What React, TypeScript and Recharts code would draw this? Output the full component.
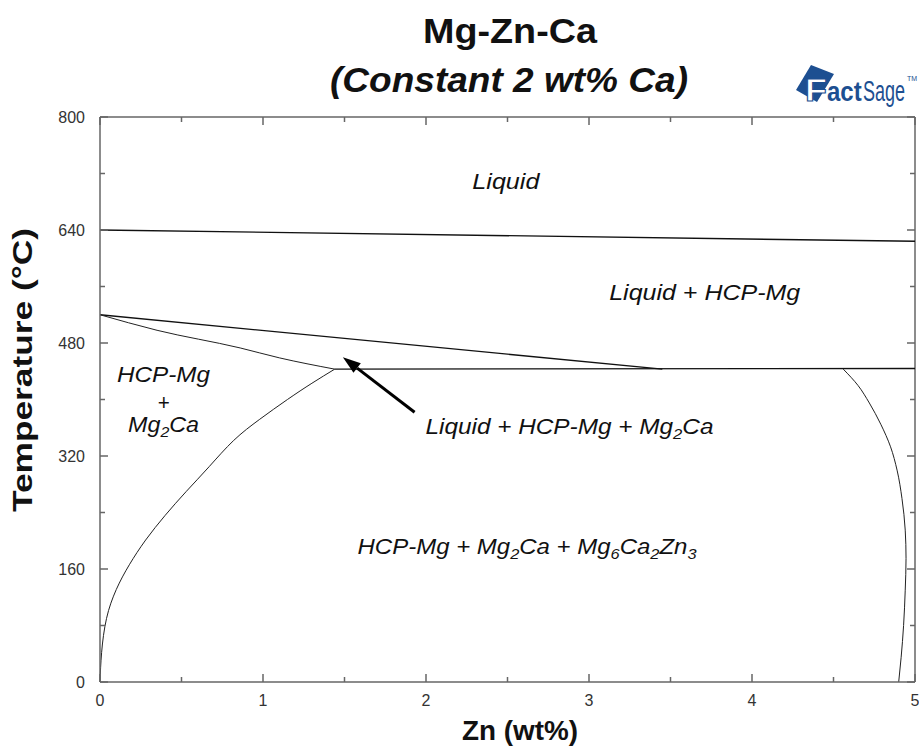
import React from 'react';
import { ComposedChart, Line, XAxis, YAxis, ReferenceDot, ReferenceLine } from 'recharts';

const FONT = '"Liberation Sans", Arial, Helvetica, sans-serif';
const AXIS = '#666';
const LOGO = '#1d4f91';

// Zn (wt%) / T (°C) tick values
const znTicks = [0, 0.5, 1, 1.5, 2, 2.5, 3, 3.5, 4, 4.5, 5];
const tTicks = [0, 80, 160, 240, 320, 400, 480, 560, 640, 720, 800];
const znMax = 5;
const tMax = 800;

// phase boundaries
const liquidus = [
  { x: 0, y: 640 },
  { x: 5, y: 624 },
];
const upperBoundary = [
  { x: 0, y: 520 },
  { x: 3.45, y: 443 },
];
const lowerBoundary = [
  { x: 0, y: 520 },
  { x: 0.35, y: 498 },
  { x: 0.86, y: 473 },
  { x: 1.1, y: 459 },
  { x: 1.44, y: 443 },
];
const eutectic = [
  { x: 1.44, y: 443 },
  { x: 5, y: 444 },
];
const mg2caSolvus = [
  { x: 0, y: 0 },
  { x: 0.01, y: 42 },
  { x: 0.04, y: 90 },
  { x: 0.1, y: 131 },
  { x: 0.18, y: 166 },
  { x: 0.28, y: 201 },
  { x: 0.4, y: 236 },
  { x: 0.53, y: 270 },
  { x: 0.67, y: 305 },
  { x: 0.82, y: 342 },
  { x: 0.98, y: 372 },
  { x: 1.15, y: 400 },
  { x: 1.3, y: 423 },
  { x: 1.44, y: 443 },
];
const ternarySolvus = [
  { x: 4.56, y: 443 },
  { x: 4.65, y: 420 },
  { x: 4.72, y: 395 },
  { x: 4.79, y: 365 },
  { x: 4.85, y: 333 },
  { x: 4.89, y: 300 },
  { x: 4.92, y: 260 },
  { x: 4.94, y: 215 },
  { x: 4.945, y: 175 },
  { x: 4.94, y: 130 },
  { x: 4.93, y: 80 },
  { x: 4.915, y: 35 },
  { x: 4.9, y: 0 },
];

// region labels: [text, subscript?] pieces, w = printed width
type Piece = [string, boolean?];
const labels: { x: number; y: number; w: number; parts: Piece[] }[] = [
  { x: 2.49, y: 708, w: 67, parts: [['Liquid']] },
  { x: 3.71, y: 551, w: 191, parts: [['Liquid + HCP-Mg']] },
  { x: 0.39, y: 435, w: 93, parts: [['HCP-Mg']] },
  { x: 0.39, y: 395, w: 12, parts: [['+']] },
  { x: 0.39, y: 364, w: 71, parts: [['Mg'], ['2', true], ['Ca']] },
  { x: 2.88, y: 361, w: 288, parts: [['Liquid + HCP-Mg + Mg'], ['2', true], ['Ca']] },
  {
    x: 2.62,
    y: 191,
    w: 339,
    parts: [['HCP-Mg + Mg'], ['2', true], ['Ca + Mg'], ['6', true], ['Ca'], ['2', true], ['Zn'], ['3', true]],
  },
];
const arrowFrom = { x: 1.93, y: 382 };
const arrowTo = { x: 1.49, y: 460 };

const BottomTick = (props: any) => {
  const { x, y, payload } = props;
  const major = Number.isInteger(payload.value);
  return (
    <g>
      <line x1={x} y1={y} x2={x} y2={y - (major ? 8 : 5)} stroke={AXIS} strokeWidth={1.5} />
      {major && (
        <text x={x} y={y + 24} textAnchor="middle" fontSize={16} fill="#333" fontFamily={FONT}>
          {payload.value}
        </text>
      )}
    </g>
  );
};

const LeftTick = (props: any) => {
  const { x, y, payload } = props;
  const major = payload.value % 160 === 0;
  return (
    <g>
      <line x1={x} y1={y} x2={x + (major ? 8 : 5)} y2={y} stroke={AXIS} strokeWidth={1.5} />
      {major && (
        <text x={x - 15} y={y + 6} textAnchor="end" fontSize={16} fill="#333" fontFamily={FONT}>
          {payload.value}
        </text>
      )}
    </g>
  );
};

// inward ticks on the top and right frame
const topTick = (major: boolean) => (props: any) =>
  <line x1={props.cx} y1={props.cy} x2={props.cx} y2={props.cy + (major ? 8 : 5)} stroke={AXIS} strokeWidth={1.5} />;
const rightTick = (major: boolean) => (props: any) =>
  <line x1={props.cx} y1={props.cy} x2={props.cx - (major ? 8 : 5)} y2={props.cy} stroke={AXIS} strokeWidth={1.5} />;

const Arrow = (props: any) => {
  const { x1, y1, x2, y2 } = props;
  const a = Math.atan2(y2 - y1, x2 - x1);
  const len = 18;
  const w = 6;
  const bx = x2 - len * Math.cos(a);
  const by = y2 - len * Math.sin(a);
  const px = -Math.sin(a) * w;
  const py = Math.cos(a) * w;
  return (
    <g>
      <line x1={x1} y1={y1} x2={bx} y2={by} stroke="#000" strokeWidth={3} />
      <polygon points={`${x2},${y2} ${bx + px},${by + py} ${bx - px},${by - py}`} fill="#000" />
    </g>
  );
};

const makeLabel = (parts: Piece[], w: number) => (props: any) => {
  const { cx, cy } = props;
  let shifted = false;
  return (
    <text
      x={cx}
      y={cy + 7}
      textAnchor="middle"
      fontSize={22}
      fontStyle="italic"
      fill="#111"
      fontFamily={FONT}
      textLength={w}
      lengthAdjust="spacingAndGlyphs"
    >
      {parts.map(([t, sub], i) => {
        let dy = 0;
        if (sub && !shifted) {
          dy = 5;
          shifted = true;
        } else if (!sub && shifted) {
          dy = -5;
          shifted = false;
        }
        return (
          <tspan key={i} dy={dy} fontSize={sub ? 15 : 22}>
            {t}
          </tspan>
        );
      })}
    </text>
  );
};

const lineStyle = { stroke: '#111', strokeWidth: 1.4 };
const curveStyle = { stroke: '#222', strokeWidth: 1 };

export default function App() {
  return (
    <div style={{ position: 'relative', width: 919, height: 747, background: '#fff', overflow: 'hidden' }}>
      <style>{'body{margin:0}'}</style>
      <ComposedChart width={919} height={747} margin={{ top: 117, right: 4, bottom: 25, left: 40 }}>
        <XAxis
          type="number"
          dataKey="x"
          domain={[0, znMax]}
          ticks={znTicks}
          interval={0}
          tick={BottomTick}
          tickSize={0}
          tickMargin={0}
          tickLine={false}
          height={40}
          axisLine={{ stroke: AXIS, strokeWidth: 1.5 }}
        />
        <YAxis
          type="number"
          domain={[0, tMax]}
          ticks={tTicks}
          interval={0}
          tick={LeftTick}
          tickSize={0}
          tickMargin={0}
          tickLine={false}
          width={60}
          axisLine={{ stroke: AXIS, strokeWidth: 1.5 }}
        />
        <ReferenceLine y={tMax} stroke={AXIS} strokeWidth={1.5} />
        <ReferenceLine x={znMax} stroke={AXIS} strokeWidth={1.5} />
        {znTicks.map((v) => (
          <ReferenceDot key={'t' + v} x={v} y={tMax} r={0} shape={topTick(Number.isInteger(v))} />
        ))}
        {tTicks.map((v) => (
          <ReferenceDot key={'r' + v} x={znMax} y={v} r={0} shape={rightTick(v % 160 === 0)} />
        ))}
        <Line data={liquidus} dataKey="y" type="linear" dot={false} isAnimationActive={false} {...lineStyle} />
        <Line data={upperBoundary} dataKey="y" type="linear" dot={false} isAnimationActive={false} {...lineStyle} />
        <Line data={lowerBoundary} dataKey="y" type="monotoneX" dot={false} isAnimationActive={false} {...curveStyle} />
        <Line data={eutectic} dataKey="y" type="linear" dot={false} isAnimationActive={false} {...lineStyle} />
        <Line data={mg2caSolvus} dataKey="y" type="natural" dot={false} isAnimationActive={false} {...curveStyle} />
        <Line data={ternarySolvus} dataKey="y" type="monotoneY" dot={false} isAnimationActive={false} {...curveStyle} />
        <ReferenceLine segment={[arrowFrom, arrowTo]} shape={Arrow} />
        {labels.map((l, i) => (
          <ReferenceDot key={i} x={l.x} y={l.y} r={0} shape={makeLabel(l.parts, l.w)} />
        ))}
      </ComposedChart>
      <svg width={919} height={747} style={{ position: 'absolute', left: 0, top: 0, pointerEvents: 'none' }}>
        <text x={510} y={43} textAnchor="middle" fontSize={35} fontWeight="bold" fontFamily={FONT} fill="#111" textLength={174} lengthAdjust="spacingAndGlyphs">
          Mg-Zn-Ca
        </text>
        <text x={509} y={92} textAnchor="middle" fontSize={35} fontStyle="italic" fontWeight="bold" fontFamily={FONT} fill="#111" textLength={358} lengthAdjust="spacingAndGlyphs">
          (Constant 2 wt% Ca)
        </text>
        <text
          transform="translate(32,370) rotate(-90)"
          textAnchor="middle"
          fontSize={27}
          fontWeight="bold"
          fontFamily={FONT}
          fill="#111"
          textLength={284}
          lengthAdjust="spacingAndGlyphs"
        >
          Temperature (°C)
        </text>
        <text x={520} y={740} textAnchor="middle" fontSize={28} fontWeight="bold" fontFamily={FONT} fill="#111" textLength={116} lengthAdjust="spacingAndGlyphs">
          Zn (wt%)
        </text>
        <g>
          <polygon points="796,90 811,65 834,74 817,102" fill={LOGO} />
          <text x={805} y={101} fontSize={31} fontWeight="bold" fontFamily={FONT} fill="#fff" stroke={LOGO} strokeWidth={1} textLength={22} lengthAdjust="spacingAndGlyphs">
            F
          </text>
          <text transform="translate(827,101) scale(1,1.17)" fontSize={24} fontWeight="bold" fontFamily={FONT} fill={LOGO}>
            act
          </text>
          <text transform="translate(863,101) scale(1,1.6)" fontSize={18} fontFamily={FONT} fill={LOGO}>
            Sage
          </text>
          <text x={907} y={81} fontSize={7} fontFamily={FONT} fill={LOGO}>
            TM
          </text>
        </g>
      </svg>
    </div>
  );
}
